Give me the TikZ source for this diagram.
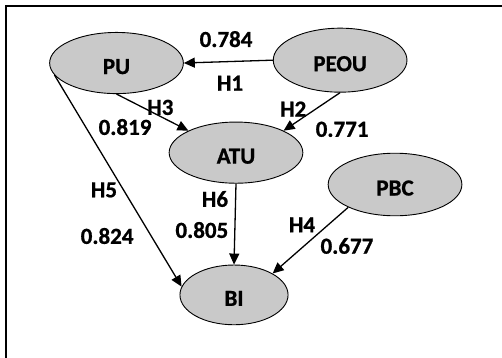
\documentclass[tikz,border=0pt]{standalone}
\usepackage{fontspec}
\setmainfont{Carlito}[BoldFeatures={FakeBold=0.9}]
\usepackage{tikz}
\usetikzlibrary{calc}
\usetikzlibrary{shapes.geometric, arrows.meta}
\tikzstyle{construct} = [ellipse, 
minimum width=4.7cm, 
minimum height=2.15cm, 
inner sep=0pt, 
text height=22pt, text depth=0pt, 
draw=black, line width=0.9pt, 
fill=black!21]
\tikzstyle{arrow} = [line width=1.3pt,-{Triangle[length=11pt,width=10pt]}]
\tikzstyle{frame} = [line width=1.9pt]

\begin{document}
\begin{tikzpicture} [font=\fontsize{23}{26}\selectfont\bfseries]

    % the bounding box
    \useasboundingbox ($(0,0) + (-4.095, -10.334)$) rectangle ($(0,0) + (13.55, 2.215)$);

    % the constructs
    \node (PU) [construct] at (0,0) {PU};
    \node (PEOU) [construct, minimum height=2.25cm] at ($(PU) + (7.86,0.1)$) {PEOU};
    \node (ATU) [construct] at ($(PU) + (4.2,-3.15)$) {ATU};
    \node (PBC) [construct, minimum height=2.2cm] at ($(PU) + (9.79,-4.27)$) {PBC};
    \node (BI) [construct, minimum width=3.8cm, minimum height=2.1cm] at ($(PU) + (4.13,-8.15)$) {BI};

    % the paths
    \draw [arrow] (PEOU.west) -- (PU.east);
    \draw [arrow] (PU.south) -- (ATU.north west);
    \draw [arrow] (PEOU.south) -- (ATU.north east);
    \draw [arrow] (PU.191) -- (BI.171);
    \draw [arrow] (ATU.south) -- (BI.north);
    \draw [arrow] (PBC.206) -- (BI.29);

    % hypotheses and coefficients
    \node (c1) [text centered] at ($(PU) + (3.85, 0.84)$) {0.784};
    \node (h1) [text centered] at ($(PU) + (3.99, -0.71)$) {H1};
    \node (h3) [text centered] at ($(PU) + (1.54, -1.56)$) {H3};
    \node (c3) [text centered] at ($(PU) + (0.30, -2.25)$) {0.819};
    \node (h5) [text centered] at ($(PU) + (-0.44, -4.46)$) {H5};
    \node (c5) [text centered] at ($(PU) + (-0.33, -6.08)$) {0.824};
    \node (h2) [text centered] at ($(PEOU) + (-1.65, -1.72)$) {H2};
    \node (c2) [text centered] at ($(PEOU) + (0.07, -2.43)$) {0.771};
    \node (h6) [text centered] at ($(ATU) + (-0.74, -1.63)$) {H6};
    \node (c6) [text centered] at ($(ATU) + (-1.20, -2.72)$) {0.805};
    \node (h4) [text centered] at ($(PBC) + (-3.27, -1.42)$) {H4};
    \node (c4) [text centered] at ($(PBC) + (-1.69, -2.16)$) {0.677};

    % the frame
    \draw [frame] ($(PU) + (-3.884, -10.6)$) |- ($(PU) + (13.8, 2.004)$);

\end{tikzpicture}
\end{document}
